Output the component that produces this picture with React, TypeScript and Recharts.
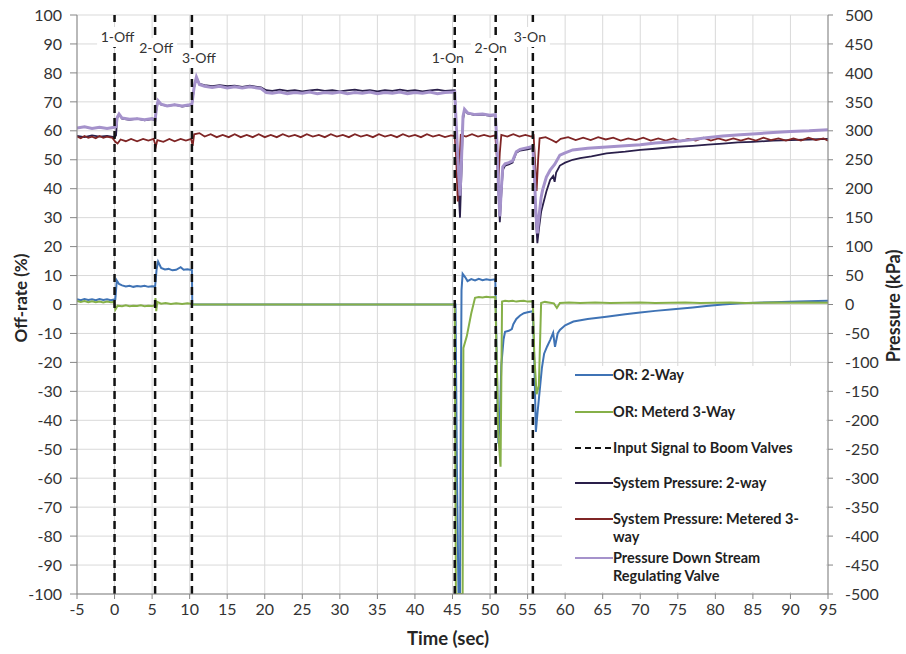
import React from 'react';
import {
  LineChart,
  Line,
  XAxis,
  YAxis,
  CartesianGrid
} from 'recharts';

// tick labels
const timeTicks = [-5, 0, 5, 10, 15, 20, 25, 30, 35, 40, 45, 50, 55, 60, 65, 70, 75, 80, 85, 90, 95];
const offRateTicks = [-100, -90, -80, -70, -60, -50, -40, -30, -20, -10, 0, 10, 20, 30, 40, 50, 60, 70, 80, 90, 100];
const pressureTicks = [-500, -450, -400, -350, -300, -250, -200, -150, -100, -50, 0, 50, 100, 150, 200, 250, 300, 350, 400, 450, 500];

// input signal to boom valves (sec)
const events = [0, 5.4, 10.3, 45.3, 50.75, 55.7];
const eventNames = ['1-Off', '2-Off', '3-Off', '1-On', '2-On', '3-On'];

// OR: 2-Way, [time sec, off-rate %]
const or2Way = [
  [-5, 1.8], [-4.5, 1.5], [-4, 1.9], [-3.5, 1.6], [-3, 1.8], [-2.5, 1.5], [-2, 1.9], [-1.5, 1.6], [-1, 1.8], [-0.5, 1.5],
  [0.1, 1.8], [0.3, 8.3], [0.6, 7.1], [1, 6.6], [1.5, 6.2], [2, 6.5], [2.5, 6.1], [3, 6.4], [3.5, 6.2], [4, 6.5],
  [4.5, 6.1], [5, 6.3], [5.4, 6.2], [5.6, 12.2], [5.8, 14.8], [6.2, 12.6], [6.7, 12.1], [7.2, 12.3], [7.7, 11.8], [8.2, 12],
  [8.8, 12.9], [9.2, 12], [9.7, 12.2], [10.3, 11.9], [10.35, 0], [45.4, 0], [45.6, -60], [45.8, -100], [46.0, -100], [46.1, -40],
  [46.2, 5], [46.35, 10.6], [46.7, 9.4], [47, 8.1], [47.5, 8.8], [48, 8.3], [48.5, 8.9], [49, 8.4], [49.5, 8.7], [50, 8.5],
  [50.7, 8.7], [50.9, -20], [51.1, -48], [51.3, -40], [51.5, -21], [51.8, -12], [52, -9.4], [52.5, -9.1], [52.9, -8.5], [53.1, -6.8],
  [53.5, -5], [54, -3.8], [54.5, -3], [55, -2.7], [55.7, -2.3], [55.9, -20], [56.1, -44], [56.3, -38], [56.6, -30], [56.9, -22],
  [57.2, -17], [57.6, -14.5], [58, -12.3], [58.4, -9.8], [58.65, -14.6], [59, -10], [59.3, -8.8], [60, -7.2], [61.1, -5.9], [63, -5],
  [65.5, -4.2], [68, -3.4], [70, -2.8], [72, -2.2], [74.4, -1.6], [77, -1], [78.8, -0.5], [81, 0], [83.3, 0.4], [85.5, 0.6],
  [87.7, 0.8], [91, 1], [95, 1.3]
];

// OR: Meterd 3-Way, [time sec, off-rate %]
const or3Way = [
  [-5, 1.2], [-4.5, 0.9], [-4, 1.2], [-3.5, 0.8], [-3, 1.1], [-2.5, 0.8], [-2, 1], [-1.5, 0.7], [-1, 1], [-0.5, 0.8],
  [-0.05, 0.9], [0.1, -1.8], [0.4, -0.4], [1, -0.6], [1.5, -0.3], [2, -0.6], [2.5, -0.4], [3, -0.5], [3.5, -0.3], [4, -0.6],
  [4.5, -0.4], [5, -0.5], [5.35, -0.3], [5.45, 2.2], [5.55, -2.3], [5.7, 0.9], [6.2, 0.3], [6.8, 0.5], [7.5, 0.2], [8.2, 0.4],
  [9, 0.2], [9.7, 0.4], [10.3, 0.2], [10.4, 0], [45.3, 0], [45.45, -100], [46.35, -100], [46.45, -15], [46.9, -11], [47.5, -3],
  [48, 2.3], [48.5, 2.6], [49, 2.4], [49.5, 2.7], [50, 2.5], [50.7, 2.6], [50.9, -20], [51.1, -45], [51.4, -56], [51.6, 1],
  [52, 1.3], [52.5, 1.1], [53, 1.3], [53.5, 1], [54, 1.2], [54.5, 1.3], [55, 1], [55.7, 1.1], [55.9, -18], [56.2, -31],
  [56.5, -28], [56.8, 0.5], [57.3, 0.9], [58, 0.6], [58.5, 0.4], [58.9, -1.2], [59.3, 0.5], [60.5, 0.7], [62, 0.5], [64, 0.7],
  [66, 0.5], [68, 0.6], [70, 0.7], [72, 0.5], [74, 0.6], [76, 0.7], [78, 0.5], [80, 0.6], [82, 0.7], [84, 0.5],
  [86, 0.6], [88, 0.7], [90, 0.6], [92, 0.7], [95, 0.6]
];

// System Pressure: 2-way, [time sec, kPa]
const sysPress2Way = [
  [-5, 291], [-4, 289], [-3, 292], [-2, 290], [-1, 291], [0, 289], [0.2, 292], [0.35, 322], [0.6, 328], [1, 321],
  [2, 319], [3, 321], [4, 318], [5, 320], [5.4, 318], [5.6, 340], [5.8, 351], [6.2, 345], [7, 343], [8, 345],
  [9, 342], [10, 344], [10.3, 345], [10.6, 375], [10.9, 392], [11.3, 381], [12, 379], [13, 377], [14, 379], [15, 377],
  [16, 378], [17, 376], [18, 378], [19, 376], [19.5, 375], [20.2, 370], [21, 369], [22, 371], [23, 369], [24, 370],
  [25, 368], [26, 370], [27, 371], [28, 369], [29, 370], [30, 368], [31, 370], [32, 371], [33, 369], [34, 370],
  [35, 368], [36, 370], [37, 369], [38, 371], [39, 369], [40, 370], [41, 368], [42, 370], [43, 371], [44, 369],
  [45.3, 370], [45.5, 300], [45.8, 200], [46.0, 150], [46.2, 230], [46.4, 320], [46.6, 334], [47, 330], [48, 327], [49, 328],
  [50, 326], [50.7, 327], [50.9, 280], [51.1, 200], [51.3, 142], [51.5, 190], [51.7, 232], [52, 240], [52.5, 242], [53, 245],
  [53.5, 262], [54, 266], [55, 268], [55.7, 270], [55.9, 220], [56.1, 150], [56.3, 106], [56.5, 130], [56.8, 160], [57, 170],
  [57.5, 195], [58, 215], [58.4, 222], [58.6, 212], [58.8, 228], [59.3, 240], [60, 245], [61, 250], [62, 253], [63.5, 256],
  [65.5, 261], [68, 264], [70, 267], [72, 269], [74.4, 272], [77, 274], [79, 276], [81, 278], [83, 280], [85, 281],
  [87.7, 283], [90, 284], [92.5, 285], [95, 286]
];

// System Pressure: Metered 3-way, [time sec, kPa]
const sysPress3Way = [
  [-5, 290], [-4.5, 287], [-4, 291], [-3.5, 288], [-3, 290], [-2.5, 287], [-2, 291], [-1.5, 288], [-1, 290], [-0.3, 288],
  [0.1, 281], [0.4, 278], [0.8, 285], [1.5, 282], [2.2, 286], [3, 282], [3.8, 286], [4.5, 283], [5.2, 286], [5.5, 273],
  [5.7, 284], [6.5, 281], [7.3, 286], [8, 282], [8.8, 286], [9.5, 283], [10.2, 286], [10.4, 274], [10.6, 294], [11.3, 296],
  [12, 290], [12.8, 294], [13.6, 289], [14.4, 293], [15.2, 289], [16, 294], [16.8, 289], [17.6, 293], [18.4, 289], [19.2, 294],
  [20, 289], [20.8, 293], [21.6, 289], [22.4, 294], [23.2, 290], [24, 293], [24.8, 289], [25.6, 294], [26.4, 290], [27.2, 293],
  [28, 289], [28.8, 294], [29.6, 290], [30.4, 293], [31.2, 289], [32, 294], [32.8, 290], [33.6, 293], [34.4, 289], [35.2, 294],
  [36, 290], [36.8, 293], [37.6, 289], [38.4, 294], [39.2, 290], [40, 293], [40.8, 289], [41.6, 294], [42.4, 290], [43.2, 293],
  [44, 289], [44.8, 292], [45.3, 291], [45.5, 250], [45.7, 178], [45.9, 235], [46.1, 293], [46.8, 290], [47.6, 294], [48.4, 290],
  [49.2, 293], [50, 290], [50.7, 292], [50.9, 255], [51.1, 210], [51.3, 262], [51.5, 293], [52.3, 290], [53.1, 294], [53.9, 290],
  [54.7, 293], [55.5, 290], [55.8, 292], [56, 245], [56.2, 196], [56.4, 250], [56.6, 287], [57.4, 289], [58.2, 284], [58.8, 280],
  [59.4, 286], [60.4, 289], [61.4, 284], [62.4, 288], [63.4, 284], [64.4, 289], [65.4, 285], [66.4, 288], [67.4, 283], [68.4, 287],
  [69.4, 284], [70.4, 288], [71.4, 283], [72.4, 287], [73.4, 283], [74.4, 287], [75.4, 282], [76.4, 286], [77.4, 283], [78.4, 288],
  [79.4, 283], [80.4, 287], [81.4, 283], [82.4, 287], [83.4, 283], [84.4, 287], [85.4, 283], [86.4, 288], [87.4, 284], [88.4, 287],
  [89.4, 283], [90.4, 287], [91.4, 283], [92.4, 288], [93.4, 284], [94.4, 287], [95, 283]
];

// Pressure Down Stream Regulating Valve, [time sec, kPa]
const pressDownstream = [
  [-5, 305], [-4, 307], [-3, 304], [-2, 306], [-1, 304], [0, 306], [0.2, 307], [0.35, 323], [0.6, 329], [1, 322],
  [2, 320], [3, 321], [4, 319], [5, 321], [5.4, 319], [5.6, 341], [5.8, 352], [6.2, 346], [7, 343], [8, 345],
  [9, 343], [10, 345], [10.3, 346], [10.6, 376], [10.9, 393], [11.3, 380], [12, 377], [13, 375], [14, 377], [15, 374],
  [16, 376], [17, 374], [18, 376], [19, 374], [19.5, 373], [20.2, 366], [21, 365], [22, 367], [23, 364], [24, 366],
  [25, 365], [26, 367], [27, 364], [28, 366], [29, 365], [30, 367], [31, 364], [32, 366], [33, 365], [34, 367],
  [35, 364], [36, 366], [37, 365], [38, 367], [39, 364], [40, 366], [41, 365], [42, 367], [43, 364], [44, 366],
  [45.3, 367], [45.5, 310], [45.8, 230], [46.0, 188], [46.2, 250], [46.4, 325], [46.6, 337], [47, 331], [48, 328], [49, 329],
  [50, 327], [50.7, 328], [50.9, 285], [51.1, 210], [51.3, 152], [51.5, 200], [51.7, 238], [52, 243], [52.5, 245], [53, 248],
  [53.5, 264], [54, 268], [55, 271], [55.7, 273], [55.9, 225], [56.1, 160], [56.3, 123], [56.5, 150], [56.8, 185], [57, 198],
  [57.5, 220], [58, 232], [58.6, 242], [59.3, 258], [60, 262], [61, 267], [63, 270], [65.5, 272], [68, 274], [70, 276],
  [72, 279], [74.4, 281], [77, 285], [78.8, 288], [81, 291], [83.3, 293], [85.5, 295], [87.7, 297], [90, 299], [92.5, 300],
  [95, 302]
];

const toRows = (pairs: number[][]) => pairs.map(([t, v]) => ({ t, v }));

const FONT = 'Lato, "Open Sans", sans-serif';

const W = 906;
const H = 654;
const MARGIN = { top: 15, right: 18, bottom: 30, left: 17 };
const Y_AXIS_W = 60;
const plotLeft = MARGIN.left + Y_AXIS_W;
const plotWidth = W - MARGIN.right - Y_AXIS_W - plotLeft;
const timeMin = timeTicks[0];
const timeMax = timeTicks[timeTicks.length - 1];
const timeToPx = (t: number) => plotLeft + ((t - timeMin) / (timeMax - timeMin)) * plotWidth;

// where each event tag sits: horizontal shift from its line, and centre height
const tagPlacement = [
  { dx: 3, cy: 37 },
  { dx: 1, cy: 48 },
  { dx: 7, cy: 58 },
  { dx: -7, cy: 58 },
  { dx: -5, cy: 48 },
  { dx: -3, cy: 37 }
];

const legendItems = [
  { lines: ['OR: 2-Way'], color: '#3F73B5', dash: false, y: 375 },
  { lines: ['OR: Meterd 3-Way'], color: '#86B048', dash: false, y: 412 },
  { lines: ['Input Signal to Boom Valves'], color: '#111', dash: true, y: 448 },
  { lines: ['System Pressure: 2-way'], color: '#2A1F4A', dash: false, y: 483 },
  { lines: ['System Pressure: Metered 3-', 'way'], color: '#7F2525', dash: false, y: 519 },
  { lines: ['Pressure Down Stream', 'Regulating Valve'], color: '#A592CB', dash: false, y: 558 }
];

const App: React.FC = () => {
  return (
    <div style={{ position: 'absolute', left: 0, top: 0, width: W, height: H, background: '#fff' }}>
      <LineChart width={W} height={H} margin={MARGIN}>
        <CartesianGrid stroke="#d9d9d9" strokeWidth={1} />
        <XAxis
          dataKey="t"
          type="number"
          domain={[timeMin, timeMax]}
          ticks={timeTicks}
          allowDataOverflow
          height={30}
          stroke="#868686"
          tickSize={5}
          tickMargin={5}
          tick={{ fontSize: 16, fontFamily: FONT, fill: '#333' }}
        />
        <YAxis
          domain={[-100, 100]}
          ticks={offRateTicks}
          allowDataOverflow
          width={Y_AXIS_W}
          stroke="#868686"
          tickSize={7}
          tickMargin={8}
          interval={0}
          tick={{ fontSize: 16, fontFamily: FONT, fill: '#333' }}
        />
        <YAxis
          yAxisId="right"
          orientation="right"
          domain={[-500, 500]}
          ticks={pressureTicks}
          allowDataOverflow
          width={Y_AXIS_W}
          stroke="#868686"
          tickSize={5}
          tickMargin={12}
          interval={0}
          tick={{ fontSize: 16, fontFamily: FONT, fill: '#333', textAnchor: 'start' }}
        />

        <Line data={toRows(or2Way)} dataKey="v" type="linear" stroke="#3F73B5" strokeWidth={2} dot={false} isAnimationActive={false} />
        <Line data={toRows(or3Way)} dataKey="v" type="linear" stroke="#86B048" strokeWidth={2} dot={false} isAnimationActive={false} />
        <Line data={toRows(sysPress2Way)} dataKey="v" yAxisId="right" type="linear" stroke="#2A1F4A" strokeWidth={1.8} dot={false} isAnimationActive={false} />
        <Line data={toRows(sysPress3Way)} dataKey="v" yAxisId="right" type="linear" stroke="#7F2525" strokeWidth={1.8} dot={false} isAnimationActive={false} />
        <Line data={toRows(pressDownstream)} dataKey="v" yAxisId="right" type="linear" stroke="#A592CB" strokeWidth={3} dot={false} isAnimationActive={false} />

        {/* input signal: one vertical dashed segment per event, spanning the left axis */}
        {events.map((t, i) => (
          <Line
            key={eventNames[i]}
            data={[{ t, v: offRateTicks[0] }, { t, v: offRateTicks[offRateTicks.length - 1] }]}
            dataKey="v"
            type="linear"
            stroke="#111"
            strokeWidth={2.5}
            strokeDasharray="8 5"
            dot={false}
            isAnimationActive={false}
          />
        ))}
      </LineChart>

      {/* event tags, white boxes over the dashed lines */}
      {events.map((t, i) => (
        <div
          key={'tag-' + eventNames[i]}
          style={{
            position: 'absolute',
            left: timeToPx(t) + tagPlacement[i].dx,
            top: tagPlacement[i].cy,
            transform: 'translate(-50%, -50%)',
            background: '#fff',
            padding: '1px 4px',
            fontFamily: FONT,
            fontSize: 14,
            lineHeight: '18px',
            color: '#333',
            whiteSpace: 'nowrap'
          }}
        >
          {eventNames[i]}
        </div>
      ))}

      {/* axis titles */}
      <div style={{ position: 'absolute', left: 20, top: 298, transform: 'translate(-50%, -50%) rotate(-90deg)', fontFamily: FONT, fontWeight: 700, fontSize: 17, color: '#262626', whiteSpace: 'nowrap' }}>
        Off-rate (%)
      </div>
      <div style={{ position: 'absolute', left: 893, top: 306, transform: 'translate(-50%, -50%) rotate(-90deg)', fontFamily: FONT, fontWeight: 700, fontSize: 18, color: '#262626', whiteSpace: 'nowrap' }}>
        Pressure (kPa)
      </div>
      <div style={{ position: 'absolute', left: 448, top: 638, transform: 'translate(-50%, -50%)', fontFamily: FONT, fontWeight: 700, fontSize: 18.5, color: '#262626', whiteSpace: 'nowrap' }}>
        Time (sec)
      </div>

      {/* legend */}
      <div style={{ position: 'absolute', left: 562, top: 366, width: 264, height: 226, background: '#fff' }}>
        {legendItems.map(item => (
          <div key={item.lines[0]}>
            <svg style={{ position: 'absolute', left: 13, top: item.y - 366 - 2 }} width={38} height={4}>
              <line x1={0} y1={2} x2={38} y2={2} stroke={item.color} strokeWidth={2} strokeDasharray={item.dash ? '6 4' : undefined} />
            </svg>
            <div style={{ position: 'absolute', left: 51, top: item.y - 366 - 9, fontFamily: FONT, fontWeight: 700, fontSize: 14.5, lineHeight: '18px', color: '#1f1f1f', whiteSpace: 'nowrap' }}>
              {item.lines.map(l => (
                <div key={l}>{l}</div>
              ))}
            </div>
          </div>
        ))}
      </div>
    </div>
  );
};

export default App;
